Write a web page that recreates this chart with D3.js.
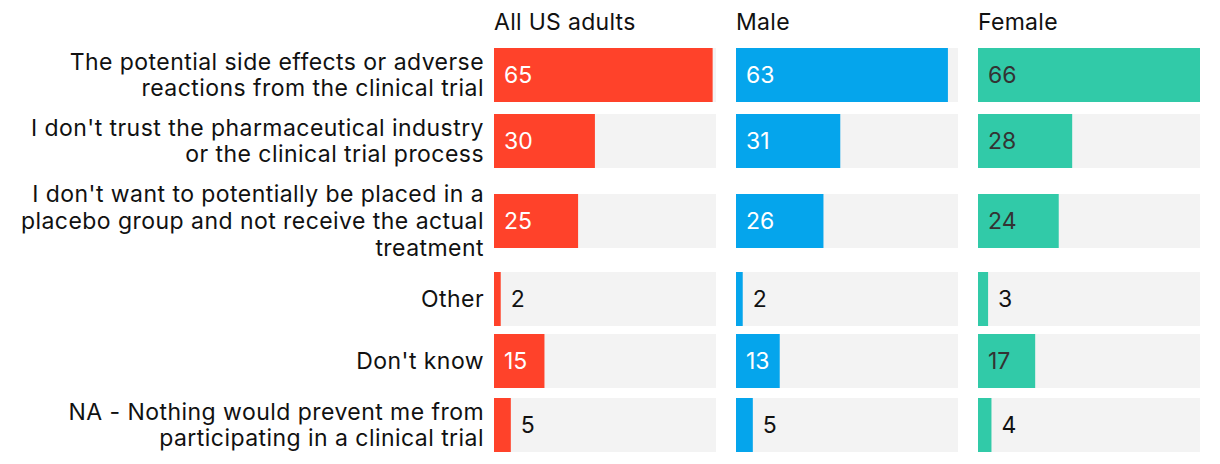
<!DOCTYPE html>
<html><head><meta charset="utf-8">
<script src="https://cdn.jsdelivr.net/npm/d3@7"></script>
<style>
body{margin:0;background:#fff;}
text{font-family:Inter,"Noto Sans",sans-serif;}
</style></head>
<body><div id="chart"></div>
<script>
const categories = [
  "The potential side effects or adverse\nreactions from the clinical trial",
  "I don't trust the pharmaceutical industry\nor the clinical trial process",
  "I don't want to potentially be placed in a\nplacebo group and not receive the actual\ntreatment",
  "Other",
  "Don't know",
  "NA - Nothing would prevent me from\nparticipating in a clinical trial"
];
const groups = ["All US adults", "Male", "Female"];
const allAdults = [65, 30, 25, 2, 15, 5];
const male = [63, 31, 26, 2, 13, 5];
const female = [66, 28, 24, 3, 17, 4];
const seriesValues = [allAdults, male, female];
const colors = ["#FF422A", "#05A5EC", "#31CAA8"];
const insideText = ["#ffffff", "#ffffff", "#333333"];

const W = 1220, H = 464;
const fontSize = 23, lineH = 26.7, ls = "0.3px", labelLs = "0.45px";
const barH = 54, gap = 8, firstTop = 46;
const panelW = 222, panelGap = 20, panelX0 = 494;

const svg = d3.select("#chart").append("svg").attr("width", W).attr("height", H);

// row layout from label line count
const lines = categories.map(c => c.split("\n"));
const rowH = lines.map(l => Math.max(barH, 28 * l.length + 2));
const rowTop = [];
let acc = firstTop;
rowH.forEach((h, i) => { rowTop.push(acc); acc += h + gap; });
const barY = rowTop.map((t, i) => t + (rowH[i] - barH) / 2);

const maxV = d3.max(seriesValues.flat());
const x = d3.scaleLinear().domain([0, maxV]).range([0, panelW]);
const px = d3.scaleBand().domain(groups).range([panelX0, panelX0 + 3 * panelW + 2 * panelGap]).paddingInner(panelGap / (panelW + panelGap));

// category labels
const lab = svg.append("g");
categories.forEach((c, i) => {
  const lsx = lines[i];
  const cy = barY[i] + barH / 2;
  const t = lab.append("text").attr("text-anchor", "end").attr("font-size", fontSize)
    .attr("letter-spacing", labelLs).attr("fill", "#111");
  lsx.forEach((l, j) => {
    t.append("tspan").attr("x", panelX0 - 10)
      .attr("y", cy + (j - (lsx.length - 1) / 2) * lineH)
      .attr("dy", "0.35em").text(l);
  });
});

groups.forEach((g, gi) => {
  const gx = px(g);
  const pg = svg.append("g").attr("transform", `translate(${gx},0)`);
  pg.append("text").attr("x", 0).attr("y", 30).attr("font-size", 23).attr("letter-spacing", ls).attr("fill", "#111").text(g);
  seriesValues[gi].forEach((v, i) => {
    pg.append("rect").attr("x", 0).attr("y", barY[i]).attr("width", panelW).attr("height", barH).attr("fill", "#F3F3F3");
    pg.append("rect").attr("x", 0).attr("y", barY[i]).attr("width", x(v)).attr("height", barH).attr("fill", colors[gi]);
    const t = pg.append("text").attr("y", barY[i] + barH / 2).attr("dy", "0.35em").attr("font-size", fontSize).text(v);
    const tw = t.node().getComputedTextLength();
    if (x(v) >= tw + 20) {
      t.attr("x", 10).attr("fill", insideText[gi]);
    } else {
      t.attr("x", x(v) + 10).attr("fill", "#111");
    }
  });
});
</script></body></html>
